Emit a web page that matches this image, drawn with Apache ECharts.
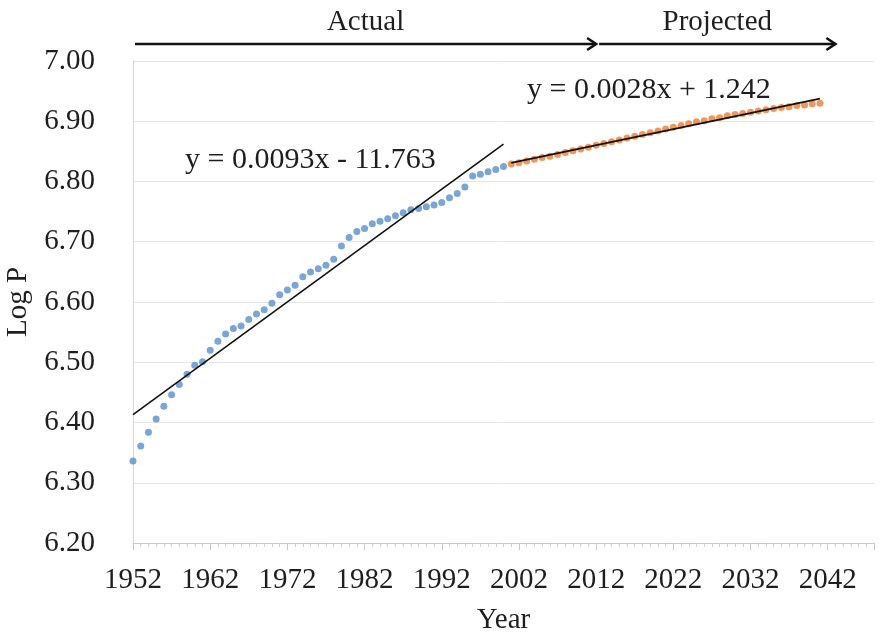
<!DOCTYPE html>
<html>
<head>
<meta charset="utf-8">
<script src="https://cdn.jsdelivr.net/npm/echarts@6/dist/echarts.min.js"></script>
<style>
  html, body { margin: 0; padding: 0; background: #ffffff; }
  #chart { width: 881px; height: 637px; }
</style>
</head>
<body>
<div id="chart"></div>
<script>
// Observed log population, 1952-2000
const actualYears = [
  1952, 1953, 1954, 1955, 1956, 1957, 1958, 1959, 1960, 1961,
  1962, 1963, 1964, 1965, 1966, 1967, 1968, 1969, 1970, 1971,
  1972, 1973, 1974, 1975, 1976, 1977, 1978, 1979, 1980, 1981,
  1982, 1983, 1984, 1985, 1986, 1987, 1988, 1989, 1990, 1991,
  1992, 1993, 1994, 1995, 1996, 1997, 1998, 1999, 2000
];
const actualLogP = [
  6.336, 6.361, 6.384, 6.406, 6.427, 6.446, 6.463, 6.480, 6.495, 6.501,
  6.520, 6.535, 6.547, 6.556, 6.560, 6.571, 6.580, 6.587, 6.598, 6.612,
  6.620, 6.628, 6.642, 6.650, 6.655, 6.661, 6.671, 6.693, 6.707, 6.717,
  6.722, 6.730, 6.734, 6.738, 6.743, 6.748, 6.753, 6.755, 6.758, 6.761,
  6.765, 6.773, 6.780, 6.791, 6.809, 6.812, 6.816, 6.820, 6.825
];

// Projected log population, 2001-2041
const projectedYears = [
  2001, 2002, 2003, 2004, 2005, 2006, 2007, 2008, 2009, 2010,
  2011, 2012, 2013, 2014, 2015, 2016, 2017, 2018, 2019, 2020,
  2021, 2022, 2023, 2024, 2025, 2026, 2027, 2028, 2029, 2030,
  2031, 2032, 2033, 2034, 2035, 2036, 2037, 2038, 2039, 2040, 2041
];
const projectedLogP = [
  6.829, 6.831, 6.834, 6.837, 6.840, 6.842, 6.845, 6.848, 6.851, 6.854,
  6.857, 6.860, 6.863, 6.866, 6.869, 6.872, 6.875, 6.878, 6.881, 6.884,
  6.887, 6.890, 6.893, 6.896, 6.899, 6.901, 6.904, 6.906, 6.909, 6.911,
  6.913, 6.915, 6.917, 6.919, 6.921, 6.923, 6.924, 6.926, 6.927, 6.929, 6.930
];

// Axis ticks
const yTicks = ['6.20', '6.30', '6.40', '6.50', '6.60', '6.70', '6.80', '6.90', '7.00'];
const xTickYears = [1952, 1962, 1972, 1982, 1992, 2002, 2012, 2022, 2032, 2042];

// Text
const equationActual = 'y = 0.0093x - 11.763';
const equationProjected = 'y = 0.0028x + 1.242';
const periodLabels = ['Actual', 'Projected'];
const periodSpans = [[1952, 2012], [2012, 2043]];

// Least-squares straight line through a set of points
function linearFit(xs, ys) {
  const n = xs.length;
  let sx = 0, sy = 0, sxx = 0, sxy = 0;
  for (let i = 0; i < n; i++) {
    sx += xs[i]; sy += ys[i]; sxx += xs[i] * xs[i]; sxy += xs[i] * ys[i];
  }
  const slope = (n * sxy - sx * sy) / (n * sxx - sx * sx);
  const intercept = (sy - slope * sx) / n;
  const x0 = xs[0], x1 = xs[n - 1];
  return [[x0, intercept + slope * x0], [x1, intercept + slope * x1]];
}

const zip = (xs, ys) => xs.map((x, i) => [x, ys[i]]);

const FONT = '"Liberation Serif", "Times New Roman", serif';
const TEXT = '#1e1e1e';
const chart = echarts.init(document.getElementById('chart'), null, { renderer: 'canvas' });

const yMin = parseFloat(yTicks[0]);
const yMax = parseFloat(yTicks[yTicks.length - 1]);

chart.setOption({
  animation: false,
  backgroundColor: '#ffffff',
  grid: { left: 133, right: 7, top: 61, bottom: 94, containLabel: false, outerBoundsMode: 'none' },
  xAxis: {
    type: 'value',
    min: 1952,
    max: 2048,
    interval: 10,
    name: 'Year',
    nameLocation: 'middle',
    nameGap: 63,
    nameTextStyle: { fontFamily: FONT, fontSize: 29, color: TEXT },
    axisLine: { lineStyle: { color: '#c8c8c8', width: 1 } },
    axisTick: { show: true, length: 7, lineStyle: { color: '#c8c8c8' } },
    minorTick: { show: true, splitNumber: 10, length: 4, lineStyle: { color: '#cfcfcf' } },
    splitLine: { show: false },
    axisLabel: {
      fontFamily: FONT, fontSize: 29, color: TEXT, margin: 23,
      formatter: v => (xTickYears.indexOf(v) >= 0 ? String(v) : '')
    }
  },
  yAxis: {
    type: 'value',
    min: yMin,
    max: yMax,
    interval: 0.1,
    name: 'Log P',
    nameLocation: 'middle',
    nameGap: 96,
    nameRotate: 90,
    nameTextStyle: { fontFamily: FONT, fontSize: 29, color: TEXT },
    axisLine: { show: true, lineStyle: { color: '#d6d6d6', width: 1 } },
    axisTick: { show: false },
    splitLine: { show: true, lineStyle: { color: '#e6e6e6', width: 1 } },
    axisLabel: {
      fontFamily: FONT, fontSize: 29, color: TEXT, margin: 38,
      formatter: v => yTicks[Math.round((v - yMin) * 10)] || ''
    }
  },
  series: [
    {
      name: 'Actual',
      type: 'scatter',
      data: zip(actualYears, actualLogP),
      symbolSize: 7,
      itemStyle: { color: '#5a8ecb' },
      z: 3
    },
    {
      name: 'Projected',
      type: 'scatter',
      data: zip(projectedYears, projectedLogP),
      symbolSize: 7,
      itemStyle: { color: '#ed7d31' },
      z: 3
    },
    {
      name: 'Actual trend',
      type: 'line',
      data: linearFit(actualYears, actualLogP),
      symbol: 'none',
      lineStyle: { color: '#111', width: 1.6 },
      z: 4
    },
    {
      name: 'Projected trend',
      type: 'line',
      data: linearFit(projectedYears, projectedLogP),
      symbol: 'none',
      lineStyle: { color: '#111', width: 1.8 },
      z: 4
    }
  ]
});

// Period arrows and equation labels above the plot
const px = yr => chart.convertToPixel({ xAxisIndex: 0 }, yr);
const arrowY = 44;
const graphics = [];
periodSpans.forEach((span, i) => {
  const x0 = px(span[0]) + (i === 0 ? 2 : 3);
  const x1 = px(span[1]);
  graphics.push({
    type: 'line',
    shape: { x1: x0, y1: arrowY, x2: x1 - 1, y2: arrowY },
    style: { stroke: '#111', lineWidth: 2.6 }
  });
  graphics.push({
    type: 'polyline',
    shape: { points: [[x1 - 9, arrowY - 6], [x1, arrowY], [x1 - 9, arrowY + 6]] },
    style: { stroke: '#111', lineWidth: 2.6, fill: null }
  });
  graphics.push({
    type: 'text',
    x: (x0 + x1) / 2,
    y: 22,
    style: {
      text: periodLabels[i], fontFamily: FONT, fontSize: 29, fill: TEXT,
      textAlign: 'center', textVerticalAlign: 'middle'
    }
  });
});
graphics.push({
  type: 'text', x: 185, y: 160,
  style: { text: equationActual, fontFamily: FONT, fontSize: 30, fill: TEXT, textVerticalAlign: 'middle' },
  z: 10
});
graphics.push({
  type: 'text', x: 527, y: 90,
  style: { text: equationProjected, fontFamily: FONT, fontSize: 30, fill: TEXT, textVerticalAlign: 'middle' },
  z: 10
});
chart.setOption({ graphic: graphics });
</script>
</body>
</html>
